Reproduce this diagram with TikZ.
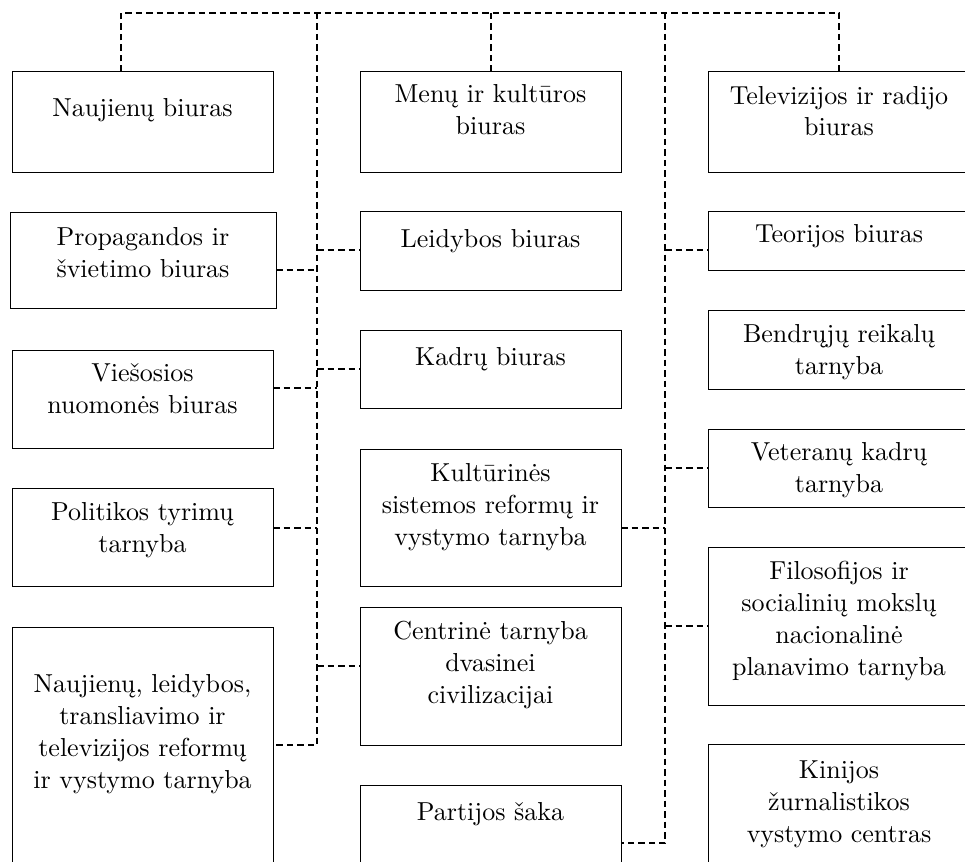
\documentclass[tikz,border=0pt]{standalone}
\usepackage{fontspec}
\setmainfont{lmroman10-regular.otf}
\usetikzlibrary{fit}
\tikzset{
  box/.style={draw=black, line width=1pt, inner sep=0pt, outer sep=0pt},
  conn/.style={draw=black, line width=1.5pt, dash pattern=on 6.5pt off 4pt},
  lbl/.style={anchor=north, inner sep=0pt, outer sep=0pt, align=center,
              font=\fontsize{26}{32}\selectfont},
}
\begin{document}
\begin{tikzpicture}[x=1pt,y=-1pt]
\useasboundingbox (0,0) rectangle (965,861);
\clip (0,0) rectangle (965,861);

% ---- boxes: left column
\node[box, fit={(12,72)(273,172)}] (nb) {};
\node[box, fit={(10,212)(276,308)}] (prop) {};
\node[box, fit={(12,350)(273,448)}] (vies) {};
\node[box, fit={(12,488)(273,586)}] (pol) {};
\node[box, fit={(12,627)(273,900)}] (nl) {};
% ---- boxes: middle column
\node[box, fit={(360,72)(621,172)}] (menu) {};
\node[box, fit={(360,211)(621,290)}] (leid) {};
\node[box, fit={(360,330)(621,408)}] (kadr) {};
\node[box, fit={(360,449)(621,586)}] (kult) {};
\node[box, fit={(360,607)(621,745)}] (cent) {};
\node[box, fit={(360,785)(621,900)}] (part) {};
% ---- boxes: right column
\node[box, fit={(708,72)(970,172)}] (tv) {};
\node[box, fit={(708,211)(970,270)}] (teor) {};
\node[box, fit={(708,310)(970,389)}] (bend) {};
\node[box, fit={(708,429)(970,507)}] (vet) {};
\node[box, fit={(708,547)(970,705)}] (fil) {};
\node[box, fit={(708,744)(970,900)}] (kin) {};

% ---- labels
\node[lbl] (nb-t) at (142.5,94.6) {\strut Naujienų biuras};
\node[lbl] (prop-t) at (143,222.6) {\strut Propagandos ir\\švietimo biuras};
\node[lbl] (vies-t) at (142.5,358.6) {\strut Viešosios\\nuomonės biuras};
\node[lbl] (pol-t) at (142.5,497.6) {\strut Politikos tyrimų\\tarnyba};
\node[lbl] (nl-t) at (142.5,669.6) {\strut Naujienų, leidybos,\\transliavimo ir\\televizijos reformų\\ir vystymo tarnyba};

\node[lbl] (menu-t) at (490.5,80.6) {\strut Menų ir kultūros\\biuras};
\node[lbl] (leid-t) at (490.5,224.6) {\strut Leidybos biuras};
\node[lbl] (kadr-t) at (490.5,342.6) {\strut Kadrų biuras};
\node[lbl] (kult-t) at (490.5,458.6) {\strut Kultūrinės\\sistemos reformų ir\\vystymo tarnyba};
\node[lbl] (cent-t) at (490.5,616.6) {\strut Centrinė tarnyba\\dvasinei\\civilizacijai};
\node[lbl] (part-t) at (490.5,797.6) {\strut Partijos šaka};

\node[lbl] (tv-t) at (839,81.6) {\strut Televizijos ir radijo\\biuras};
\node[lbl] (teor-t) at (839,219.6) {\strut Teorijos biuras};
\node[lbl] (bend-t) at (839,319.6) {\strut Bendrųjų reikalų\\tarnyba};
\node[lbl] (vet-t) at (839,437.6) {\strut Veteranų kadrų\\tarnyba};
\node[lbl] (fil-t) at (839,556.6) {\strut Filosofijos ir\\socialinių mokslų\\nacionalinė\\planavimo tarnyba};
\node[lbl] (kin-t) at (839,755.6) {\strut Kinijos\\žurnalistikos\\vystymo centras};

% ---- connector junctions
\coordinate (busL) at (121,13);
\coordinate (busR) at (839,13);
\coordinate (trL) at (317,13);
\coordinate (trM) at (491,13);
\coordinate (trR) at (665,13);

% top bus and drops
\draw[conn] (nb.north -| busL) -- (busL) -- (busR) -- (tv.north -| busR);
\draw[conn] (trM) -- (menu.north -| trM);
% trunks
\draw[conn] (trL) |- (nl.east |- 0,745);
\draw[conn] (trR) |- (part.east |- 0,843);
% left trunk branches
\draw[conn] (prop.east |- 0,270) -- (trL |- 0,270);
\draw[conn] (vies.east |- 0,388) -- (trL |- 0,388);
\draw[conn] (pol.east |- 0,528) -- (trL |- 0,528);
\draw[conn] (trL |- 0,250) -- (leid.west |- 0,250);
\draw[conn] (trL |- 0,369) -- (kadr.west |- 0,369);
\draw[conn] (trL |- 0,666) -- (cent.west |- 0,666);
% right trunk branches
\draw[conn] (kult.east |- 0,528) -- (trR |- 0,528);
\draw[conn] (trR |- 0,250) -- (teor.west |- 0,250);
\draw[conn] (trR |- 0,468) -- (vet.west |- 0,468);
\draw[conn] (trR |- 0,626) -- (fil.west |- 0,626);
\end{tikzpicture}
\end{document}
